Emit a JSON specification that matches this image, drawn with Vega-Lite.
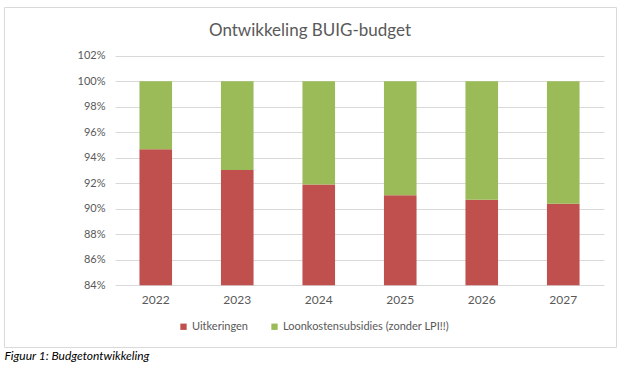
{
  "$schema": "https://vega.github.io/schema/vega-lite/v6.json",
  "width": 612,
  "height": 340,
  "autosize": {"type": "none"},
  "padding": {"left": 4, "top": 7, "right": 7, "bottom": 36},
  "background": "white",
  "config": {
    "font": "Lato",
    "view": {"stroke": "#d9d9d9", "strokeWidth": 1}
  },
  "title": {
    "text": "Ontwikkeling BUIG-budget",
    "orient": "top",
    "anchor": "middle",
    "frame": "group",
    "offset": -33,
    "fontSize": 17,
    "fontWeight": "normal",
    "color": "#595959"
  },
  "data": {
    "values": [
      {"jaar": "2022", "categorie": "Uitkeringen", "aandeel": 0.9466},
      {"jaar": "2022", "categorie": "Loonkostensubsidies (zonder LPI!!)", "aandeel": 0.0534},
      {"jaar": "2023", "categorie": "Uitkeringen", "aandeel": 0.9304},
      {"jaar": "2023", "categorie": "Loonkostensubsidies (zonder LPI!!)", "aandeel": 0.0696},
      {"jaar": "2024", "categorie": "Uitkeringen", "aandeel": 0.919},
      {"jaar": "2024", "categorie": "Loonkostensubsidies (zonder LPI!!)", "aandeel": 0.081},
      {"jaar": "2025", "categorie": "Uitkeringen", "aandeel": 0.9105},
      {"jaar": "2025", "categorie": "Loonkostensubsidies (zonder LPI!!)", "aandeel": 0.0895},
      {"jaar": "2026", "categorie": "Uitkeringen", "aandeel": 0.907},
      {"jaar": "2026", "categorie": "Loonkostensubsidies (zonder LPI!!)", "aandeel": 0.093},
      {"jaar": "2027", "categorie": "Uitkeringen", "aandeel": 0.904},
      {"jaar": "2027", "categorie": "Loonkostensubsidies (zonder LPI!!)", "aandeel": 0.096}
    ]
  },
  "mark": {"type": "bar"},
  "encoding": {
    "x": {
      "field": "jaar",
      "type": "ordinal",
      "scale": {"range": [111, 600], "paddingInner": 0.6, "paddingOuter": 0.3},
      "axis": {
        "orient": "bottom",
        "offset": -61.7,
        "domain": false,
        "ticks": false,
        "labelAngle": 0,
        "labelPadding": 9,
        "labelFontSize": 12,
        "labelColor": "#595959",
        "title": "Figuur 1: Budgetontwikkeling",
        "titleX": 0,
        "titleY": 73.7,
        "titleAlign": "left",
        "titleBaseline": "alphabetic",
        "titleFontStyle": "italic",
        "titleFontWeight": "normal",
        "titleFontSize": 12,
        "titleColor": "#000000"
      }
    },
    "y": {
      "field": "aandeel",
      "type": "quantitative",
      "stack": "zero",
      "scale": {"domain": [0.84, 1.02], "range": [278.3, 48.7], "nice": false, "zero": false, "clamp": true},
      "axis": {
        "orient": "left",
        "offset": -103,
        "values": [0.84, 0.86, 0.88, 0.9, 0.92, 0.94, 0.96, 0.98, 1.0, 1.02],
        "format": ".0%",
        "domain": false,
        "ticks": false,
        "labelPadding": 2,
        "labelFontSize": 11,
        "labelColor": "#595959",
        "grid": true,
        "gridColor": "#d9d9d9",
        "gridWidth": 1,
        "title": null
      }
    },
    "color": {
      "field": "categorie",
      "type": "nominal",
      "scale": {
        "domain": ["Uitkeringen", "Loonkostensubsidies (zonder LPI!!)"],
        "range": ["#c0504d", "#9bbb59"]
      },
      "legend": {
        "orient": "none",
        "legendX": 174,
        "legendY": 314,
        "direction": "horizontal",
        "title": null,
        "symbolType": "square",
        "symbolSize": 40,
        "symbolStrokeWidth": 0,
        "labelOffset": 3,
        "columnPadding": 20,
        "labelFontSize": 11,
        "labelLimit": 400,
        "labelColor": "#595959"
      }
    },
    "order": {"field": "categorie", "sort": "descending"}
  }
}
